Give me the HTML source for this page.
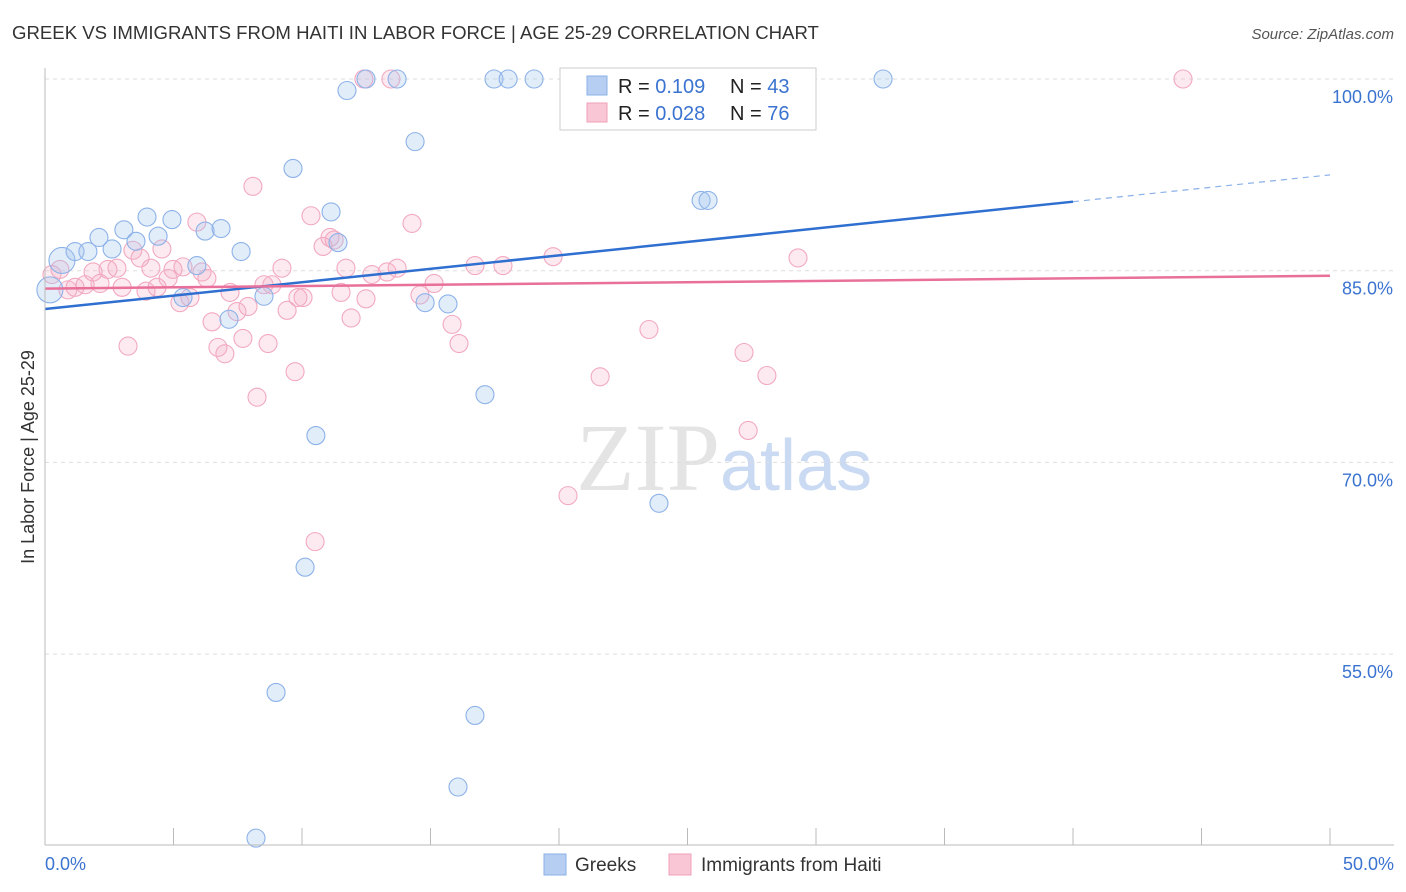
<!DOCTYPE html>
<html><head><meta charset="utf-8"><style>
body{margin:0;background:#fff;font-family:"Liberation Sans",sans-serif;}
svg{display:block}
</style></head><body>
<svg id="c" width="1406" height="892" xmlns="http://www.w3.org/2000/svg">
<text x="12" y="39" font-size="18.6" fill="#333">GREEK VS IMMIGRANTS FROM HAITI IN LABOR FORCE | AGE 25-29 CORRELATION CHART</text>
<text x="1394" y="39" font-size="15" fill="#555" font-style="italic" text-anchor="end">Source: ZipAtlas.com</text>
<text x="720" y="490" font-size="96" font-family="Liberation Serif,serif" fill="#e4e4e4" text-anchor="end">ZIP</text>
<text x="720" y="490" font-size="72" fill="#c9daf2">atlas</text>
<text transform="translate(34,457) rotate(-90)" font-size="18" fill="#333" text-anchor="middle">In Labor Force | Age 25-29</text>
<g id="grid"></g><g id="pts"></g><g id="trend"></g>
<line x1="45" y1="68" x2="45" y2="845" stroke="#bbb"/>
<line x1="45" y1="845" x2="1394" y2="845" stroke="#bbb"/>
<text x="45" y="870" font-size="18" fill="#3b73d0">0.0%</text>
<text x="1394" y="870" font-size="18" fill="#3b73d0" text-anchor="end">50.0%</text>
<g>
<rect x="560" y="68" width="256" height="62" fill="#fff" stroke="#ccc"/>
<rect x="587" y="76" width="20" height="19" fill="#b5cef2" stroke="#8ab0e8"/>
<rect x="587" y="103" width="20" height="19" fill="#f9c6d5" stroke="#f0a0b8"/>
<text x="618" y="93" font-size="20" fill="#222">R = <tspan fill="#3b73d0">0.109</tspan><tspan x="730">N = </tspan><tspan fill="#3b73d0">43</tspan></text>
<text x="618" y="120" font-size="20" fill="#222">R = <tspan fill="#3b73d0">0.028</tspan><tspan x="730">N = </tspan><tspan fill="#3b73d0">76</tspan></text>
</g>
<g>
<rect x="544" y="854" width="22" height="21" fill="#b5cef2" stroke="#8ab0e8"/>
<text x="575" y="871" font-size="19" fill="#333">Greeks</text>
<rect x="669" y="854" width="22" height="21" fill="#f9c6d5" stroke="#f0a0b8"/>
<text x="701" y="871" font-size="19" fill="#333">Immigrants from Haiti</text>
</g>
</svg>
<script>
const yTicks=[100,85,70,55];
const xTickVals=[0,5,10,15,20,25,30,35,40,45,50];
const blueX=[0.66,0.19,1.17,1.67,2.10,2.61,3.07,3.54,3.97,4.40,4.94,5.37,5.91,6.23,6.85,7.16,7.63,8.21,8.52,8.99,9.65,10.12,10.54,11.13,11.40,11.75,12.49,13.70,14.40,14.79,15.68,16.07,16.73,17.12,17.47,18.02,19.03,20.51,23.89,25.53,25.80,32.61];
const blueY=[85.8,83.5,86.5,86.5,87.6,86.7,88.2,87.3,89.2,87.7,89.0,82.9,85.4,88.1,88.3,81.2,86.5,40.6,83.0,52.0,93.0,61.8,72.1,89.6,87.2,99.1,100,100,95.1,82.5,82.4,44.6,50.2,75.3,100,100,100,100,66.8,90.5,90.5,100];
const pinkX=[0.27,0.58,0.89,1.17,1.56,1.87,2.14,2.45,2.80,3.00,3.23,3.42,3.70,3.93,4.12,4.36,4.55,4.79,4.98,5.25,5.37,5.64,5.91,6.11,6.30,6.50,6.73,7.00,7.20,7.47,7.70,7.90,8.09,8.25,8.52,8.68,8.83,9.22,9.42,9.73,9.84,10.04,10.35,10.51,10.82,11.09,11.25,11.52,11.71,11.91,12.41,12.49,12.72,13.31,13.46,13.70,14.28,14.59,15.14,15.84,16.11,16.73,17.82,19.77,20.35,21.60,23.50,27.20,27.36,28.09,29.30,44.28];
const pinkY=[84.7,85.1,83.5,83.7,83.9,84.9,84.0,85.1,85.2,83.7,79.1,86.6,86.0,83.4,85.2,83.7,86.7,84.4,85.1,82.5,85.3,82.9,88.8,84.9,84.4,81.0,79.0,78.5,83.3,81.8,79.7,82.2,91.6,75.1,83.9,79.3,83.9,85.2,81.9,77.1,82.9,82.9,89.3,63.8,86.9,87.6,87.4,83.3,85.2,81.3,100,82.8,84.7,84.9,100,85.2,88.7,83.1,84.0,80.8,79.3,85.4,85.4,86.1,67.4,76.7,80.4,78.6,72.5,76.8,86.0,100];
const blueTrend=[82.0,92.5];
const pinkTrend=[83.6,84.6];
const NS="http://www.w3.org/2000/svg";
const sx=v=>45+v/50*1285;
const sy=v=>79+(100-v)*12.78;
function mk(t,a,p){const e=document.createElementNS(NS,t);for(const k in a)e.setAttribute(k,a[k]);p.appendChild(e);return e;}
const grid=document.getElementById('grid');
yTicks.forEach((t,i)=>{
 const l=mk('line',{x1:45,x2:1394,y1:sy(t),y2:sy(t),stroke:'#ddd','stroke-dasharray':'4,4'},grid);
 
 
 const tx=mk('text',{x:1393,y:sy(t)+24,'font-size':18,fill:'#3b73d0','text-anchor':'end'},grid);
 tx.textContent=t.toFixed(1)+'%';
 
 
});
xTickVals.forEach(t=>{
 const l=mk('line',{x1:sx(t),x2:sx(t),y1:828,y2:845,stroke:'#bbb'},grid);
 
 
});
const pts=document.getElementById('pts');
pinkX.forEach((x,i)=>{
 const c=mk('circle',{cx:sx(x),cy:sy(pinkY[i]),r:9,fill:'rgba(245,170,195,0.25)',stroke:'#f2a9c0','stroke-width':1.1},pts);
 
 
});
blueX.forEach((x,i)=>{
 const c=mk('circle',{cx:sx(x),cy:sy(blueY[i]),r:(i<2?13:9),fill:'rgba(160,195,240,0.3)',stroke:'#8db2e8','stroke-width':1.1},pts);
 
 
});
const tr=document.getElementById('trend');
const b40=blueTrend[0]+(blueTrend[1]-blueTrend[0])*0.8;
const bl=mk('line',{x1:sx(0),y1:sy(blueTrend[0]),x2:sx(40),y2:sy(b40),stroke:'#2f6fd0','stroke-width':2.5},tr);


const bd=mk('line',{x1:sx(40),y1:sy(b40),x2:sx(50),y2:sy(blueTrend[1]),stroke:'#8ab0e8','stroke-width':1.2,'stroke-dasharray':'6,5'},tr);


const pl=mk('line',{x1:sx(0),y1:sy(pinkTrend[0]),x2:sx(50),y2:sy(pinkTrend[1]),stroke:'#e8709a','stroke-width':2.5},tr);


</script>
</body></html>
